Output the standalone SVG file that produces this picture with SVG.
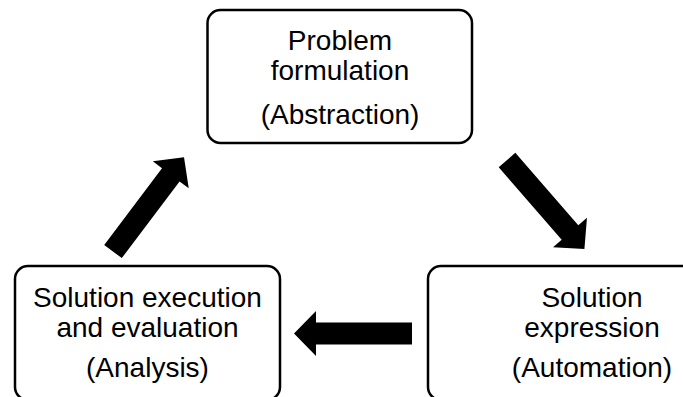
<svg xmlns="http://www.w3.org/2000/svg" xmlns:xlink="http://www.w3.org/1999/xlink" width="683" height="397" viewBox="0 0 683 397">
  <style>
    .box { fill: #ffffff; stroke: #000000; stroke-width: 2.5; }
    .label { font-family: "Liberation Sans", Arial, sans-serif; font-size: 28px; fill: #000000; text-anchor: middle; }
    .flow { fill: #000000; }
  </style>
  <defs>
    <!-- block arrow pointing along +x, tail at origin -->
    <path id="blockArrow" d="M0,-11 L96,-11 L96,-22.5 L118,0 L96,22.5 L96,11 L0,11 Z"/>
  </defs>

  <rect x="0" y="0" width="683" height="397" fill="#ffffff"/>

  <g id="problem-formulation">
    <rect class="box" x="207.5" y="10" width="264.5" height="133" rx="13" ry="13"/>
    <text class="label" x="340" y="50">Problem</text>
    <text class="label" x="340" y="80">formulation</text>
    <text class="label" x="340" y="124">(Abstraction)</text>
  </g>

  <g id="solution-expression">
    <rect class="box" x="428" y="266" width="330" height="134" rx="13" ry="13"/>
    <text class="label" x="592" y="307">Solution</text>
    <text class="label" x="592" y="337">expression</text>
    <text class="label" x="592" y="377">(Automation)</text>
  </g>

  <g id="solution-execution">
    <rect class="box" x="15" y="266" width="265" height="134" rx="13" ry="13"/>
    <text class="label" x="147.5" y="307">Solution execution</text>
    <text class="label" x="147.5" y="337">and evaluation</text>
    <text class="label" x="147.5" y="377">(Analysis)</text>
  </g>

  <g id="connectors" class="flow">
    <use xlink:href="#blockArrow" transform="translate(507,160) rotate(49)"/>
    <use xlink:href="#blockArrow" transform="translate(412,333.5) rotate(180)"/>
    <use xlink:href="#blockArrow" transform="translate(113,251.5) rotate(-53)"/>
  </g>
</svg>
